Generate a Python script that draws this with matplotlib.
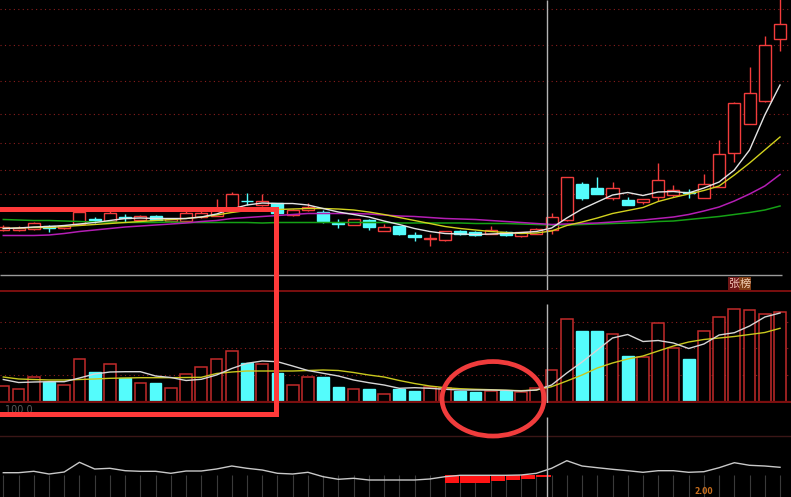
import matplotlib
matplotlib.use('Agg')
import matplotlib.pyplot as plt
from matplotlib.patches import Rectangle, Ellipse
import numpy as np

# ---------------- data ----------------
opens = [5.40, 5.40, 5.42, 5.49, 5.45, 5.53, 5.61, 5.59, 5.65, 5.61,
         5.68, 5.58, 5.59, 5.67, 5.69, 5.80, 5.99, 5.90, 5.94, 5.70,
         5.80, 5.77, 5.54, 5.51, 5.60, 5.39, 5.48, 5.29, 5.23, 5.20,
         5.38, 5.36, 5.33, 5.36, 5.28, 5.33, 5.40, 5.60, 6.33, 6.23,
         6.05, 6.00, 5.97, 6.07, 6.11, 6.15, 6.05, 6.27, 6.95, 7.53,
         7.98, 9.23]
highs = [5.50, 5.48, 5.56, 5.50, 5.50, 5.84, 5.67, 5.78, 5.72, 5.70,
         5.71, 5.65, 5.82, 5.78, 6.02, 6.17, 6.15, 6.13, 5.95, 5.83,
         5.95, 5.81, 5.63, 5.63, 5.63, 5.52, 5.49, 5.37, 5.33, 5.39,
         5.40, 5.38, 5.48, 5.38, 5.37, 5.44, 5.75, 6.45, 6.37, 6.47,
         6.37, 6.07, 6.03, 6.75, 6.30, 6.23, 6.53, 7.20, 7.96, 8.67,
         9.29, 10.10]
lows = [5.38, 5.38, 5.40, 5.36, 5.43, 5.52, 5.54, 5.58, 5.57, 5.59,
        5.60, 5.57, 5.58, 5.65, 5.68, 5.78, 5.90, 5.89, 5.74, 5.69,
        5.79, 5.55, 5.45, 5.51, 5.40, 5.38, 5.30, 5.19, 5.08, 5.19,
        5.31, 5.28, 5.33, 5.28, 5.27, 5.32, 5.32, 5.58, 6.01, 6.13,
        6.01, 5.91, 5.93, 5.98, 6.07, 6.05, 6.04, 6.26, 6.77, 7.53,
        7.97, 8.97]
closes = [5.46, 5.45, 5.54, 5.45, 5.49, 5.76, 5.60, 5.74, 5.64, 5.69,
          5.61, 5.63, 5.75, 5.75, 5.80, 6.12, 5.98, 5.99, 5.75, 5.81,
          5.87, 5.59, 5.53, 5.62, 5.47, 5.47, 5.33, 5.27, 5.24, 5.38,
          5.32, 5.30, 5.40, 5.30, 5.36, 5.43, 5.66, 6.45, 6.05, 6.13,
          6.23, 5.91, 6.02, 6.41, 6.21, 6.14, 6.33, 6.93, 7.95, 8.15,
          9.10, 9.52]

ma5 = [5.43, 5.44, 5.46, 5.47, 5.49, 5.52, 5.55, 5.59, 5.63, 5.64,
       5.63, 5.63, 5.63, 5.66, 5.72, 5.82, 5.90, 5.94, 5.93, 5.93,
       5.90, 5.83, 5.76, 5.71, 5.66, 5.58, 5.51, 5.43, 5.37, 5.33,
       5.32, 5.31, 5.32, 5.33, 5.35, 5.37, 5.44, 5.64, 5.82, 5.96,
       6.10, 6.15, 6.09, 6.16, 6.17, 6.14, 6.24, 6.36, 6.60, 7.00,
       7.70, 8.30]
ma10 = [5.43, 5.44, 5.45, 5.45, 5.47, 5.49, 5.51, 5.53, 5.55, 5.57,
        5.59, 5.61, 5.63, 5.66, 5.70, 5.75, 5.79, 5.80, 5.81, 5.82,
        5.83, 5.83, 5.82, 5.80, 5.76, 5.71, 5.65, 5.59, 5.53, 5.47,
        5.43, 5.40, 5.37, 5.35, 5.33, 5.34, 5.38, 5.49, 5.56, 5.64,
        5.73, 5.79, 5.85, 5.97, 6.05, 6.12, 6.19, 6.28, 6.50, 6.74,
        7.00, 7.26]
ma20 = [5.29, 5.29, 5.29, 5.30, 5.33, 5.37, 5.40, 5.43, 5.46, 5.48,
        5.50, 5.52, 5.54, 5.57, 5.59, 5.63, 5.65, 5.67, 5.69, 5.71,
        5.73, 5.73, 5.73, 5.73, 5.72, 5.70, 5.68, 5.67, 5.65, 5.63,
        5.62, 5.61, 5.59, 5.57, 5.55, 5.53, 5.51, 5.52, 5.53, 5.54,
        5.56, 5.58, 5.60, 5.63, 5.66, 5.71, 5.78, 5.86, 5.98, 6.12,
        6.28, 6.51]
ma60 = [5.61, 5.60, 5.59, 5.59, 5.58, 5.57, 5.56, 5.56, 5.55, 5.55,
        5.55, 5.56, 5.55, 5.55, 5.55, 5.55, 5.55, 5.54, 5.55, 5.55,
        5.55, 5.55, 5.55, 5.55, 5.55, 5.55, 5.54, 5.54, 5.54, 5.54,
        5.54, 5.53, 5.53, 5.53, 5.52, 5.51, 5.50, 5.50, 5.51, 5.52,
        5.53, 5.54, 5.55, 5.57, 5.58, 5.61, 5.64, 5.67, 5.71, 5.75,
        5.80, 5.88]

volumes = [16, 13, 25, 20, 17, 43, 30, 38, 24, 19,
           19, 14, 28, 35, 43, 51, 39, 38, 29, 17,
           25, 25, 15, 13, 13, 8, 13, 11, 15, 14,
           11, 10, 11, 11, 10, 14, 32, 83, 71, 71,
           68, 46, 45, 79, 54, 43, 71, 85, 93, 92,
           88, 90]
vol_ma5 = [22.5, 19.5, 20, 20.3, 20.3, 24, 28, 30, 30.3, 30.3,
           26, 24.5, 21.5, 22.7, 27, 33.5, 38.7, 41, 40.3, 36,
           31.5, 28.7, 26, 22, 19.3, 17, 13.7, 14.3, 13.7, 12.7,
           12, 12, 12, 11.7, 11, 12, 17, 29, 40, 52,
           64, 67.5, 60.5, 61.5, 59, 53.5, 58, 67, 69.3, 76,
           85, 89]
vol_ma10 = [25, 23, 22.5, 22, 22, 22.5, 23, 23.7, 24, 24.3,
            24.3, 24.3, 24.5, 24.7, 28.5, 30, 31, 31, 31, 31,
            31.5, 32, 31.5, 29.5, 27, 25, 21.5, 18.5, 16, 14.3,
            13.3, 12.7, 12.3, 11.7, 11.3, 12, 15.3, 21, 27, 34,
            39, 43, 46, 51, 56, 60, 62.5, 64, 65.5, 67.5,
            69.5, 73.7]

ind_line = [2.3, 2.3, 3.7, 1, 3, 12.7, 6, 6.7, 4.3, 3.7,
            3.7, 1.7, 4, 4, 6, 9, 6.7, 5, 1.7, 1,
            2.7, -1.7, -4.3, -3.3, -5, -5, -5, -5, -4, -1.7,
            -0.3, -0.3, -0.3, -0.3, 0, 1.7, 6.7, 14.3, 9, 7.3,
            5.7, 4.3, 2.7, 4.3, 4.3, 2.7, 3.3, 7.3, 12.3, 9.7,
            9, 7.7]
ind_bar_idx = [29, 30, 31, 32, 33, 34, 35]
ind_bar_vals = [-7.7, -7.7, -7.7, -5.7, -5.0, -4.0, -2.3]

price_grid = [9.82, 9.10, 8.38, 7.72, 7.14, 6.60, 6.12, 4.96]
vol_grid = [27, 54, 80]
cross_x = 35.73
cross_price = 4.50
label_text = ['张', '榜']
vol_unit = '100 0.'
bottom_text = '2.00'

# ---------------- styling ----------------
W, H = 791, 497
BG = '#000000'
RED = '#f23c3c'
VRED = '#c22a2a'
CYAN = '#54fcfc'
GRIDC = '#8a1e1e'
SEPC = '#7a0f0f'
ANN = '#ff3a3a'
CJK = ['Noto Sans CJK SC', 'DejaVu Sans']

n = len(closes)
x = np.arange(n)
XL = (-0.217, 51.72)

fig = plt.figure(figsize=(W / 100, H / 100), dpi=100, facecolor=BG)

def mk(top_px, bot_px):
    ax = fig.add_axes([0, (H - bot_px) / H, 1, (bot_px - top_px) / H])
    ax.set_facecolor(BG)
    ax.set_xlim(*XL)
    for s in ax.spines.values():
        s.set_visible(False)
    ax.set_xticks([]); ax.set_yticks([])
    return ax

ax_p = mk(0, 290)
ax_v = mk(291, 403)
ax_i = mk(403, 497)
ax_p.set_ylim(4.2, 10.0)
ax_v.set_ylim(-1, 111)
ax_i.set_ylim(-22, 72)

# ---- price panel ----
for g in price_grid:
    ax_p.axhline(g, color=GRIDC, lw=0.8, ls=(0, (1, 3)), zorder=0)

o = np.array(opens); c = np.array(closes); h = np.array(highs); l = np.array(lows)
up = c >= o
bw = 0.79
for i in range(n):
    lo_b, hi_b = min(o[i], c[i]), max(o[i], c[i])
    if up[i]:
        ax_p.vlines(x[i], hi_b, h[i], color=RED, lw=1.0, zorder=2)
        ax_p.vlines(x[i], l[i], lo_b, color=RED, lw=1.0, zorder=2)
        ax_p.bar(x[i], max(hi_b - lo_b, 0.004), bottom=lo_b, width=bw,
                 facecolor=BG, edgecolor=RED, lw=1.0, zorder=3)
    else:
        ax_p.vlines(x[i], l[i], h[i], color=CYAN, lw=1.0, zorder=2)
        ax_p.bar(x[i], max(hi_b - lo_b, 0.004), bottom=lo_b, width=bw,
                 facecolor=CYAN, edgecolor=CYAN, lw=1.0, zorder=3)

ax_p.plot(x, ma60, color='#15a015', lw=1.1, zorder=4)
ax_p.plot(x, ma20, color='#b41eb4', lw=1.1, zorder=4)
ax_p.plot(x, ma10, color='#d2d21e', lw=1.0, zorder=5)
ax_p.plot(x, ma5, color='#e4e4e4', lw=1.0, zorder=6)

ax_p.vlines(cross_x, 4.2, 10.0, color='#b4b4b4', lw=1.0, zorder=7)
ax_p.hlines(cross_price, XL[0], 51.13, color='#9a9a9a', lw=1.0, zorder=7)

# ---- volume panel ----
for g in vol_grid:
    ax_v.axhline(g, color=GRIDC, lw=0.8, ls=(0, (1, 3)), zorder=0)
vols = np.array(volumes)
ax_v.bar(x[up], vols[up], width=0.77, facecolor=BG, edgecolor=VRED, lw=1.1, zorder=2)
ax_v.bar(x[~up], vols[~up], width=0.77, facecolor=CYAN, edgecolor=CYAN, lw=1.0, zorder=2)
ax_v.plot(x, vol_ma10, color='#c8c81e', lw=1.0, zorder=4)
ax_v.plot(x, vol_ma5, color='#d6d6d6', lw=1.0, zorder=5)
ax_v.axhline(-0.3, color=SEPC, lw=1.6, zorder=3)
ax_v.vlines(cross_x, -1, 98, color='#b4b4b4', lw=1.0, zorder=6)

# ---- indicator panel ----
ax_i.axhline(39, color='#3a1616', lw=1.0, zorder=0)
ax_i.vlines(x, -22, 0, color='#3a3a3a', lw=0.8, zorder=1)
ax_i.bar(ind_bar_idx, ind_bar_vals, width=0.94, align='edge',
         color='#ff1414', zorder=2)
ax_i.plot(x, ind_line, color='#c8c8c8', lw=1.0, zorder=3)
ax_i.vlines(cross_x, -22, 58, color='#b4b4b4', lw=1.0, zorder=4)

# ---- overlay (separators, annotations, labels) ----
ax_o = fig.add_axes([0, 0, 1, 1])
ax_o.set_xlim(0, W); ax_o.set_ylim(H, 0)
ax_o.axis('off'); ax_o.patch.set_alpha(0)
ax_o.axhline(290.7, color=SEPC, lw=1.4, zorder=1)

ax_o.text(5, 413, vol_unit, color='#5a5a5a', fontsize=7, va='baseline', zorder=1)
ax_o.text(694, 496.5, bottom_text, color='#c86e1e', fontsize=5.5, va='bottom',
          fontweight='bold', zorder=1)

ax_o.add_patch(Rectangle((727.5, 277), 11.5, 12.5, facecolor='#6e1616',
                         edgecolor='none', zorder=2))
ax_o.add_patch(Rectangle((739, 277), 12, 12.5, facecolor='#7e3c14',
                         edgecolor='none', zorder=2))
ax_o.text(733.3, 283.5, label_text[0], color='#f0c0b4', fontsize=8,
          family=CJK, ha='center', va='center', zorder=3)
ax_o.text(745.1, 283.5, label_text[1], color='#f4d0b4', fontsize=8,
          family=CJK, ha='center', va='center', zorder=3)

ax_o.add_patch(Rectangle((-20, 209.2), 296.3, 204.8, fill=False,
                         edgecolor=ANN, lw=3.6, zorder=5))
ax_o.add_patch(Ellipse((493, 398.8), 102, 74.5, fill=False,
                       edgecolor='#f03c3c', lw=3.4, zorder=5))

fig.savefig('out.png', dpi=100, facecolor=BG)
